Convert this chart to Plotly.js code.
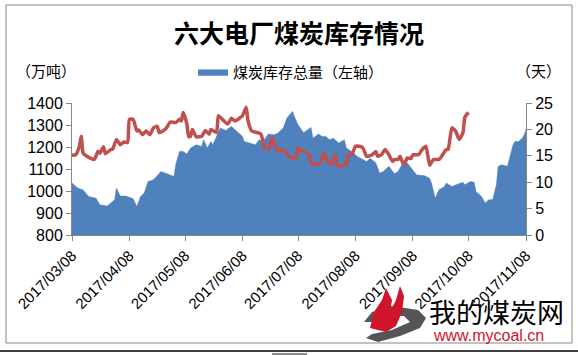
<!DOCTYPE html>
<html>
<head>
<meta charset="utf-8">
<script src="https://cdn.plot.ly/plotly-3.0.1.min.js"></script>
<style>html,body{margin:0;padding:0;background:#fff;}#chart{width:578px;height:355px;}</style>
</head>
<body>
<div id="chart"></div>
<script>
// ---- data ----
const stockDates = ["2017-03-08","2017-03-11","2017-03-14","2017-03-17","2017-03-21","2017-03-23","2017-03-27","2017-03-29","2017-03-31","2017-04-01","2017-04-03","2017-04-06","2017-04-09","2017-04-10","2017-04-12","2017-04-14","2017-04-16","2017-04-18","2017-04-21","2017-04-25","2017-04-30","2017-05-02","2017-05-03","2017-05-05","2017-05-07","2017-05-09","2017-05-11","2017-05-14","2017-05-17","2017-05-18","2017-05-20","2017-05-22","2017-05-23","2017-05-27","2017-05-30","2017-06-02","2017-06-05","2017-06-08","2017-06-09","2017-06-12","2017-06-15","2017-06-17","2017-06-19","2017-06-22","2017-06-25","2017-06-27","2017-06-30","2017-07-02","2017-07-05","2017-07-06","2017-07-08","2017-07-11","2017-07-15","2017-07-16","2017-07-19","2017-07-21","2017-07-23","2017-07-25","2017-07-27","2017-07-30","2017-08-02","2017-08-03","2017-08-06","2017-08-09","2017-08-12","2017-08-14","2017-08-16","2017-08-19","2017-08-21","2017-08-23","2017-08-26","2017-08-29","2017-08-31","2017-09-03","2017-09-05","2017-09-08","2017-09-10","2017-09-14","2017-09-17","2017-09-18","2017-09-20","2017-09-22","2017-09-25","2017-09-26","2017-09-29","2017-10-02","2017-10-05","2017-10-06","2017-10-09","2017-10-11","2017-10-12","2017-10-15","2017-10-17","2017-10-19","2017-10-21","2017-10-23","2017-10-24","2017-10-26","2017-10-29","2017-11-01","2017-11-02","2017-11-04","2017-11-06","2017-11-07","2017-11-08"];
const stockValues = [1036,1014,1005,975,967,937,932,946,960,1013,977,977,967,965,929,975,991,1043,1051,1089,1073,1066,1120,1180,1180,1168,1195,1210,1202,1233,1195,1225,1210,1286,1275,1294,1271,1248,1225,1218,1210,1233,1225,1259,1256,1263,1286,1332,1362,1339,1301,1265,1289,1240,1259,1248,1248,1233,1240,1218,1233,1195,1180,1157,1142,1134,1149,1127,1081,1089,1112,1078,1089,1134,1127,1096,1073,1070,1058,1036,967,1005,1020,1036,1020,1031,1040,1028,1043,1040,998,975,945,960,960,1028,1112,1119,1112,1210,1225,1225,1240,1255,1280];

const dayDates = ["2017-03-08","2017-03-10","2017-03-12","2017-03-13","2017-03-14","2017-03-16","2017-03-20","2017-03-22","2017-03-23","2017-03-25","2017-03-26","2017-03-29","2017-03-30","2017-04-01","2017-04-03","2017-04-05","2017-04-07","2017-04-08","2017-04-10","2017-04-12","2017-04-13","2017-04-15","2017-04-17","2017-04-19","2017-04-21","2017-04-23","2017-04-24","2017-04-26","2017-04-28","2017-04-30","2017-05-03","2017-05-05","2017-05-06","2017-05-07","2017-05-09","2017-05-10","2017-05-11","2017-05-12","2017-05-14","2017-05-17","2017-05-19","2017-05-21","2017-05-22","2017-05-25","2017-05-26","2017-05-29","2017-05-31","2017-06-02","2017-06-04","2017-06-07","2017-06-08","2017-06-10","2017-06-11","2017-06-13","2017-06-16","2017-06-18","2017-06-20","2017-06-22","2017-06-24","2017-06-26","2017-06-28","2017-06-29","2017-07-01","2017-07-03","2017-07-05","2017-07-07","2017-07-08","2017-07-10","2017-07-14","2017-07-15","2017-07-18","2017-07-20","2017-07-22","2017-07-24","2017-07-26","2017-07-28","2017-07-29","2017-07-31","2017-08-02","2017-08-03","2017-08-04","2017-08-06","2017-08-08","2017-08-10","2017-08-12","2017-08-14","2017-08-17","2017-08-19","2017-08-20","2017-08-22","2017-08-24","2017-08-26","2017-08-28","2017-08-29","2017-08-31","2017-09-01","2017-09-03","2017-09-05","2017-09-07","2017-09-08","2017-09-11","2017-09-13","2017-09-15","2017-09-17","2017-09-19","2017-09-22","2017-09-24","2017-09-26","2017-09-27","2017-09-29","2017-10-01","2017-10-03","2017-10-05","2017-10-06","2017-10-08"];
const dayValues = [15.1,15.2,16.8,18.7,15.5,14.9,14.3,15.8,15.5,16.7,15.4,16.2,16.3,18.1,17.1,17.6,17.5,21.9,21.9,19.7,19.9,19.0,19.7,19.0,20.3,20.6,19.4,19.7,20.3,21.4,21.3,21.9,21.6,23.2,21.0,18.6,18.7,20.0,18.6,18.7,19.8,19.1,20.0,19.4,22.6,21.6,21.0,22.1,21.6,22.3,22.6,24.2,21.6,19.7,19.4,19.1,16.5,16.2,18.4,16.5,15.8,16.2,15.8,14.9,14.6,14.6,16.5,16.0,15.2,13.6,13.4,13.6,15.5,13.9,13.4,15.2,13.3,13.0,13.4,13.3,15.2,15.2,16.8,16.8,16.5,14.9,15.2,15.8,14.9,15.2,16.2,15.2,13.9,14.3,14.3,14.9,13.3,14.6,14.5,15.2,15.2,16.2,16.8,13.2,14.3,14.3,15.2,16.2,16.2,20.3,19.7,18.1,19.4,22.3,23.2];

const tickDates = ["2017-03-08","2017-04-08","2017-05-08","2017-06-08","2017-07-08","2017-08-08","2017-09-08","2017-10-08","2017-11-08"];
const tickLabels = ["2017/03/08","2017/04/08","2017/05/08","2017/06/08","2017/07/08","2017/08/08","2017/09/08","2017/10/08","2017/11/08"];
const titleText = "六大电厂煤炭库存情况";
const seriesName = "煤炭库存总量（左轴）";
const leftUnit = "（万吨）";
const rightUnit = "（天）";

// ---- layout helpers (pixel -> paper) ----
const L = 72, R = 526, T = 103, B = 235;
const px = x => (x - L) / (R - L);
const py = y => (B - y) / (B - T);

const cjk = '"Noto Sans CJK SC", "Liberation Sans", sans-serif';
const axisGray = '#868686';

const traces = [
  {
    x: stockDates, y: stockValues, name: seriesName, type: 'scatter', mode: 'lines',
    fill: 'tozeroy', fillcolor: '#4F81BD', line: {color: '#4F81BD', width: 0.5},
    yaxis: 'y', hoverinfo: 'skip'
  },
  {
    x: dayDates, y: dayValues, name: '存煤可用天数', type: 'scatter', mode: 'lines',
    line: {color: '#C0504D', width: 3.5, shape: 'spline', smoothing: 0.5},
    yaxis: 'y2', showlegend: false, hoverinfo: 'skip'
  }
];

function flamePath(points) {
  return 'M ' + points.map(p => px(p[0]) + ',' + py(p[1])).join(' L ') + ' Z';
}

const layout = {
  width: 578, height: 355,
  margin: {l: L, r: 578 - R, t: T, b: 355 - B},
  paper_bgcolor: '#ffffff', plot_bgcolor: '#ffffff',
  font: {family: '"Liberation Sans", Arial, sans-serif', size: 16, color: '#000'},
  showlegend: true,
  legend: {
    x: px(193), y: py(72), xanchor: 'left', yanchor: 'middle',
    orientation: 'h', bgcolor: 'rgba(0,0,0,0)',
    font: {family: cjk, size: 15, color: '#000'}
  },
  xaxis: {
    type: 'date', range: ['2017-03-08', '2017-11-08'],
    tickmode: 'array', tickvals: tickDates, ticktext: tickLabels,
    tickangle: -45, ticks: 'outside', ticklen: 5, tickcolor: axisGray,
    showline: true, linecolor: axisGray, linewidth: 1, showgrid: false, zeroline: false,
    tickfont: {size: 15, family: '"Liberation Sans", Arial, sans-serif'}
  },
  yaxis: {
    range: [800, 1400], dtick: 100, ticks: 'outside', ticklen: 5, tickcolor: axisGray,
    showline: true, linecolor: axisGray, linewidth: 1, showgrid: false, zeroline: false,
    tickfont: {size: 16}
  },
  yaxis2: {
    range: [0, 25], dtick: 5, overlaying: 'y', side: 'right',
    ticks: 'outside', ticklen: 5, tickcolor: axisGray,
    showline: true, linecolor: axisGray, linewidth: 1, showgrid: false, zeroline: false,
    tickfont: {size: 16}
  },
  annotations: [
    {text: '<b>' + titleText + '</b>', xref: 'paper', yref: 'paper', x: px(299), y: py(32),
     xanchor: 'center', yanchor: 'middle', showarrow: false,
     font: {family: cjk, size: 25, color: '#000'}},
    {text: leftUnit, xref: 'paper', yref: 'paper', x: px(14), y: py(70),
     xanchor: 'left', yanchor: 'middle', showarrow: false,
     font: {family: cjk, size: 15, color: '#000'}},
    {text: rightUnit, xref: 'paper', yref: 'paper', x: px(563), y: py(70),
     xanchor: 'right', yanchor: 'middle', showarrow: false,
     font: {family: cjk, size: 15, color: '#000'}},
    {text: '我的煤炭网', xref: 'paper', yref: 'paper', x: px(427), y: py(311),
     xanchor: 'left', yanchor: 'middle', showarrow: false,
     font: {family: cjk, size: 27, color: '#000'}},
    {text: 'www.mycoal.cn', xref: 'paper', yref: 'paper', x: px(431), y: py(335),
     xanchor: 'left', yanchor: 'middle', showarrow: false,
     font: {family: '"Liberation Sans", Arial, sans-serif', size: 16, color: '#d0142c'}}
  ],
  shapes: [
    {type: 'rect', xref: 'paper', yref: 'paper', x0: px(6), x1: px(572), y0: py(343), y1: py(5),
     line: {color: axisGray, width: 1}, fillcolor: 'rgba(0,0,0,0)', layer: 'below'},
    {type: 'line', xref: 'paper', yref: 'paper', x0: px(0), x1: px(578), y0: py(351), y1: py(351),
     line: {color: '#000', width: 1.5}},
    {type: 'rect', xref: 'paper', yref: 'paper', x0: px(272), x1: px(307), y0: py(355), y1: py(353),
     line: {width: 0}, fillcolor: '#8c8c8c'},
    {type: 'path', xref: 'paper', yref: 'paper',
     path: flamePath([[364,322],[372,312],[392,306],[418,310],[426,318],[420,328],[400,336],[378,342],[366,338],[372,334],[392,330],[410,322],[404,316],[386,316],[372,322]]),
     fillcolor: '#555', line: {width: 0}},
    {type: 'path', xref: 'paper', yref: 'paper',
     path: flamePath([[370,328],[374,312],[382,300],[386,288],[392,300],[390,312],[396,300],[400,286],[404,296],[402,312],[396,326],[386,332]]),
     fillcolor: '#d0142c', line: {width: 0}}
  ]
};

Plotly.newPlot('chart', traces, layout, {staticPlot: true, displayModeBar: false});
</script>
</body>
</html>
